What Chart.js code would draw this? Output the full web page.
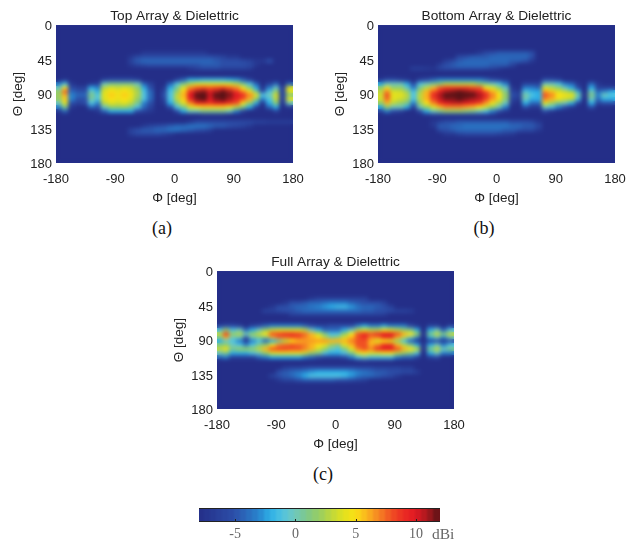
<!DOCTYPE html>
<html><head><meta charset="utf-8">
<style>
html,body{margin:0;padding:0;background:#fff;width:641px;height:544px;overflow:hidden}
canvas{position:absolute}
.cap{position:absolute;font:18px "Liberation Serif",serif;color:#111;transform:translate(-50%,-50%)}
.unit{position:absolute;font:15.5px "Liberation Serif",serif;color:#666;line-height:16px}
</style>
<script src="https://cdn.jsdelivr.net/npm/chart.js@4"></script>
</head><body>
<canvas id="a" width="320" height="210" style="left:0;top:0;width:320px;height:210px"></canvas>
<canvas id="b" width="319" height="210" style="left:322px;top:0;width:319px;height:210px"></canvas>
<canvas id="c" width="320" height="210" style="left:161px;top:246px;width:320px;height:210px"></canvas>
<canvas id="bar" width="340" height="44" style="left:149px;top:500px;width:340px;height:44px"></canvas>
<div class="cap" style="left:162px;top:228px">(a)</div>
<div class="cap" style="left:484px;top:228px">(b)</div>
<div class="cap" style="left:323px;top:474px">(c)</div>
<div class="unit" style="left:432px;top:526px">dBi</div>
<script>
const phiCenters=[-175,-165,-155,-145,-135,-125,-115,-105,-95,-85,-75,-65,-55,-45,-35,-25,-15,-5,5,15,25,35,45,55,65,75,85,95,105,115,125,135,145,155,165,175];
const thetaCenters=[32.5,37.5,42.5,47.5,52.5,57.5,62.5,67.5,72.5,77.5,82.5,87.5,92.5,97.5,102.5,107.5,112.5,117.5,122.5,127.5,132.5,137.5,142.5,147.5];
const phiTicks=[-180,-90,0,90,180];
const thetaTicks=[0,45,90,135,180];
const colorbarTicks=[-5,0,5,10];
const colorbarLevels=[-7.75,-7.25,-6.75,-6.25,-5.75,-5.25,-4.75,-4.25,-3.75,-3.25,-2.75,-2.25,-1.75,-1.25,-0.75,-0.25,0.25,0.75,1.25,1.75,2.25,2.75,3.25,3.75,4.25,4.75,5.25,5.75,6.25,6.75,7.25,7.75,8.25,8.75,9.25,9.75,10.25,10.75,11.25,11.75];
const colormapDb=[-8,-5,-3,-2,-1,0,1,2,3,4,5,6,7,8,9,10,11,12];
const colormapRgb=[[36,46,136],[44,78,168],[40,130,205],[45,175,230],[80,195,225],[110,200,190],[125,200,140],[150,205,100],[190,215,60],[225,225,30],[250,225,20],[250,180,30],[245,130,35],[240,80,35],[235,45,35],[225,25,35],[170,25,30],[90,18,22]];

const topArray=[
[-8,-8,-8,-8,-8,-8, -8,-8,-8,-8,-8,-8, -8,-8,-8,-8,-8,-8, -8,-8,-8,-8,-8,-8, -8,-8,-8,-8,-8,-8, -8,-8,-8,-8,-8,-8],
[-8,-8,-8,-8,-8,-8, -8,-8,-8,-8,-8,-8, -8,-7,-7,-7,-7,-7, -7,-7,-7,-7,-7,-8, -8,-8,-8,-8,-8,-8, -8,-8,-8,-8,-8,-8],
[-8,-8,-8,-8,-8,-8, -8,-8,-8,-8,-8,-7, -5.5,-5,-5,-5,-5,-5, -5,-5,-5,-5,-5,-5, -5.5,-6,-7,-7,-8,-8, -8,-8,-8,-8,-8,-8],
[-8,-8,-8,-8,-8,-8, -8,-8,-8,-8,-8,-6, -4.5,-4,-4,-4,-4,-4, -4,-4,-4,-4,-4,-4, -4.5,-5,-5,-5,-5.5,-6, -7,-7,-5,-8,-8,-8],
[-8,-8,-8,-8,-8,-8, -8,-8,-8,-8,-8,-7, -6,-5.5,-5,-5,-5,-5, -5,-5,-5,-5,-4.5,-4.5, -4.5,-5,-5,-5,-5,-5.5, -7,-8,-8,-8,-8,-8],
[-8,-8,-8,-8,-8,-8, -8,-8,-8,-8,-8,-8, -8,-8,-8,-8,-8,-8, -8,-8,-7,-6,-5.5,-5.5, -5.5,-6,-6,-6,-6,-6.5, -8,-8,-8,-8,-8,-8],
[-8,-8,-8,-8,-8,-8, -8,-8,-8,-8,-8,-8, -8,-8,-8,-8,-8,-8, -8,-8,-8,-8,-8,-8, -8,-8,-8,-8,-8,-8, -8,-8,-8,-8,-8,-8],
[-8,-8,-8,-8,-8,-8, -8,-8,-8,-8,-8,-8, -8,-8,-8,-8,-8,-8, -8,-8,-8,-8,-8,-8, -8,-8,-8,-8,-8,-8, -8,-8,-8,-8,-8,-8],
[-8,-7,-8,-8,-8,-8, -8,-6,-5,-5,-5,-5, -6,-8,-8,-8,-8,-8, -6,-4,-2,-2,-1.5,-1.5, -1.5,-1.5,-2,-2.5,-4,-6, -8,-8,-8,-8,-8,-8],
[-3,-1,-7,-8,-8,-7, -6,0,1,1,1,1, 0,-4,-6,-8,-8,-4, -1,1,3,4,4,4, 4,4,4,3,1,-1, -4,-8,-6,-4,-8,-4],
[0,5,-5,-6,-6,-2, -3,3,4,3.5,4,3.5, 2,-2,-5,-8,-7,-2, 1,4,7,8,8.5,8, 8.5,9,8,7,5,2, -2,-7,-3,0,-6,4],
[2,8,-4,-5,-5,0, -2,4,5,4.5,5,4, 2.5,-1,-4,-8,-6,-1, 2,5.5,9,11,11.5,10, 11,12,11,9,7,5, 1,-5,-1,2,-6,4],
[2,6,-3,-4,-4,1, -1,4,5.5,4.5,5.5,4.5, 2.5,-1,-4,-8,-5,-1, 3,6,10,12,12,10.5, 12,12,11.5,10,9,7, 4,-1,0,3.5,-6,1.5],
[2,5.5,-3,-5,-5,0.5, -1,4,5,4.5,5,4, 2,-1,-4,-8,-6,-1, 3,5.5,9.5,11.5,12,10, 11.5,12,11,9.5,8,6, 2,-3,-1,3,-6,4],
[0,4,-5,-6,-5,-1, -3,3,4,3.5,4,3, 1,-3,-5,-8,-7,-2, 1.5,4,7,9.5,9.5,9, 10,10,9,8,5,2, -2,-7,-2,1.5,-7,0],
[-3,1,-7,-8,-8,-4, -5,0,2,2,2,1, -1,-4,-6,-8,-8,-5, -1,1,4,5,5.5,5.5, 5.5,5.5,4.5,3,1,-2, -6,-8,-4,-2,-8,-7],
[-7,-4,-8,-8,-8,-8, -7,-4,-2,-2,-2,-2, -5,-6,-7,-8,-8,-8, -5,-2,0,0,1,1, 1,1,0,-3,-6,-8, -8,-8,-8,-6,-8,-8],
[-8,-8,-8,-8,-8,-8, -8,-8,-8,-8,-8,-8, -8,-8,-8,-8,-8,-8, -8,-8,-8,-8,-7,-7, -7,-7,-8,-8,-8,-8, -8,-8,-8,-8,-8,-8],
[-8,-8,-8,-8,-8,-8, -8,-8,-8,-8,-8,-8, -8,-8,-8,-8,-8,-8, -8,-8,-8,-8,-8,-8, -8,-8,-8,-8,-8,-8, -8,-8,-8,-8,-8,-8],
[-8,-8,-8,-8,-8,-8, -8,-8,-8,-8,-8,-8, -8,-8,-8,-8,-8,-8, -8,-8,-7,-5.5,-5.5,-5.5, -5.5,-5.5,-5.5,-5.5,-5.5,-5.5, -6,-6,-6.5,-6.5,-6.5,-6.5],
[-8,-8,-8,-8,-8,-8, -8,-8,-8,-8,-8,-8, -8,-7,-6,-5.5,-5,-4.5, -4,-4,-3.5,-3.5,-3.5,-4, -4.5,-4.5,-5,-5.5,-6,-7, -8,-8,-8,-8,-8,-8],
[-8,-8,-8,-8,-8,-8, -8,-8,-8,-8,-8,-6, -5,-4.5,-4.5,-4,-4,-3.5, -3.5,-4,-4.5,-5,-5.5,-6.5, -8,-8,-8,-8,-8,-8, -8,-8,-8,-8,-8,-8],
[-8,-8,-8,-8,-8,-8, -8,-8,-8,-8,-8,-6.5, -5.5,-5.5,-5.5,-5.5,-6,-7, -8,-8,-8,-8,-8,-8, -8,-8,-8,-8,-8,-8, -8,-8,-8,-8,-8,-8],
[-8,-8,-8,-8,-8,-8, -8,-8,-8,-8,-8,-8, -8,-8,-8,-8,-8,-8, -8,-8,-8,-8,-8,-8, -8,-8,-8,-8,-8,-8, -8,-8,-8,-8,-8,-8]
];

const bottomArray=[
[-8,-8,-8,-8,-8,-8, -8,-8,-8,-8,-8,-8, -8,-8,-8,-8,-8,-8, -8,-8,-8,-8,-8,-8, -8,-8,-8,-8,-8,-8, -8,-8,-8,-8,-8,-8],
[-8,-8,-8,-8,-8,-8, -8,-8,-8,-8,-8,-8, -8,-8,-8,-7,-5.5,-5, -4.5,-4.5,-4.5,-4.5,-4.5,-5, -8,-8,-8,-8,-8,-8, -8,-8,-8,-8,-8,-8],
[-8,-8,-8,-8,-8,-8, -8,-8,-8,-8,-8,-8, -5.5,-5,-4.5,-4.5,-4.5,-4, -4,-4,-4,-4,-4,-5, -8,-8,-8,-8,-8,-8, -8,-8,-8,-8,-8,-8],
[-8,-8,-8,-8,-8,-8, -8,-8,-8,-8,-6.5,-5.5, -4.5,-4,-4,-4,-4,-4, -4,-4,-4.5,-4.5,-5,-7, -8,-8,-8,-8,-8,-8, -8,-8,-8,-8,-8,-8],
[-8,-8,-8,-8,-8,-8, -8,-8,-8,-6.5,-5,-4.5, -4,-4,-4,-4,-4,-4.5, -4.5,-4.5,-6,-8,-8,-8, -8,-8,-8,-8,-8,-8, -8,-8,-8,-8,-8,-8],
[-8,-8,-8,-8,-8,-6, -6,-6.5,-7,-5.5,-5,-5, -5,-5,-5,-5,-5.5,-6, -7,-8,-8,-8,-8,-8, -8,-8,-8,-8,-8,-8, -8,-8,-8,-8,-8,-8],
[-8,-8,-8,-8,-8,-8, -8,-8,-8,-8,-8,-8, -8,-8,-8,-8,-8,-8, -8,-8,-8,-8,-8,-8, -8,-8,-8,-8,-8,-8, -8,-8,-8,-8,-8,-8],
[-8,-8,-8,-8,-8,-8, -8,-8,-8,-8,-8,-8, -8,-8,-8,-8,-8,-8, -8,-8,-8,-8,-8,-8, -8,-8,-8,-8,-8,-8, -8,-8,-8,-8,-8,-8],
[-7,-5,-5,-6,-7,-8, -6,-5,-4,-3,-3,-3, -3,-3,-3,-3,-4,-5, -6,-7,-8,-8,-8,-8, -8,-5,-5,-6,-8,-8, -8,-8,-8,-8,-8,-8],
[-2,0,0,0,-2,-5, -1,0,1,2,3,3, 3,3,3,2,1,0, -1,-3,-8,-8,-6,-6, -6,0,0,-1,-3,-4, -7,-8,-4,-7,-8,-8],
[2,5,2,2,0,-3, 1,3,6,8,9,9, 9,9,8.5,8,5,4, 2,0,-7,-8,-3,-3, -4,4,3,2,0,-2, -5,-8,-2,-6,-6,-6],
[3,7,4,3.5,2,-1, 2.5,6,8,10,11,11.5, 12,11.5,11,10,8,6, 4,1,-6,-7,-1,-2, -2,6.5,5.5,4,3,2, -2,-8,0,-4,-3,-2],
[3.5,8,4,4,3,-1, 3,6,9,11,12,12, 12,12,12,11,9,7, 5,2,-5,-6,0.5,-1, -2,8,7,5,4.5,4, 0.5,-7,1,-3,0,-1],
[3.5,7.5,4,3.5,2.5,-1, 3,6,8.5,10.5,11.5,11.5, 12,11.5,11,10.5,8.5,6.5, 4.5,1.5,-6,-7,0,-2, -2,7,6,4.5,3.5,3, -1.5,-8,0,-4,-2,-2],
[2,6,3,2,1,-3, 2,5,7,9,10,10.5, 10.5,10,9.5,8.5,6.5,4.5, 2.5,0,-7,-8,-2,-4, -4,4,2.5,1,0,-2, -6,-8,-2,-6,-5,-5],
[-2,2,0,0,-2,-6, 0,2,4,6,7,7, 7,6.5,6,5,3.5,2, 0,-3,-8,-8,-5,-7, -7,0,-1,-3,-5,-7, -8,-8,-5,-8,-8,-8],
[-6,-3,-5,-6,-8,-8, -5,-2,0,1,2,2, 2,1.5,1,0,-1,-3, -5,-7,-8,-8,-8,-8, -8,-5,-7,-8,-8,-8, -8,-8,-8,-8,-8,-8],
[-8,-8,-8,-8,-8,-8, -8,-7,-6,-6,-6,-6, -6,-6,-6,-6,-6,-7, -8,-8,-8,-8,-8,-8, -8,-8,-8,-8,-8,-8, -8,-8,-8,-8,-8,-8],
[-8,-8,-8,-8,-8,-8, -8,-8,-8,-8,-8,-8, -8,-8,-8,-8,-8,-8, -8,-8,-8,-8,-8,-8, -8,-8,-8,-8,-8,-8, -8,-8,-8,-8,-8,-8],
[-8,-8,-8,-8,-8,-8, -8,-8,-7,-6,-5,-5, -4.5,-4.5,-4.5,-4.5,-4.5,-4.5, -4.5,-4.5,-5,-5,-5,-5.5, -7,-8,-8,-8,-8,-8, -8,-8,-8,-8,-8,-8],
[-8,-8,-8,-8,-8,-8, -8,-8,-7,-4.5,-4.5,-4, -4,-3.5,-3.5,-3.5,-3.5,-3.5, -3.5,-3.5,-4,-4,-4.5,-4.5, -5.5,-8,-8,-8,-8,-8, -8,-8,-8,-8,-8,-8],
[-8,-8,-8,-8,-8,-8, -8,-8,-8,-5.5,-5,-4.5, -4,-4,-4,-4,-4,-4, -4,-4.5,-4.5,-5,-5.5,-5.5, -7,-8,-8,-8,-8,-8, -8,-8,-8,-8,-8,-8],
[-8,-8,-8,-8,-8,-8, -8,-8,-8,-8,-7,-7, -6,-5.5,-5.5,-5.5,-5.5,-5.5, -6,-6.5,-7,-8,-8,-8, -8,-8,-8,-8,-8,-8, -8,-8,-8,-8,-8,-8],
[-8,-8,-8,-8,-8,-8, -8,-8,-8,-8,-8,-8, -8,-8,-8,-8,-8,-8, -8,-8,-8,-8,-8,-8, -8,-8,-8,-8,-8,-8, -8,-8,-8,-8,-8,-8]
];

const fullArray=[
[-8,-8,-8,-8,-8,-8, -8,-8,-8,-8,-8,-8, -8,-8,-8,-8,-8,-8, -8,-8,-8,-8,-8,-8, -8,-8,-8,-8,-8,-8, -8,-8,-8,-8,-8,-8],
[-8,-8,-8,-8,-8,-8, -8,-8,-8,-8,-8,-8, -8,-8,-7,-6,-6,-6, -6,-6,-6,-6,-6,-8, -8,-8,-8,-8,-8,-8, -8,-8,-8,-8,-8,-8],
[-8,-8,-8,-8,-8,-8, -8,-8,-8,-8,-7,-5, -5,-4.5,-4,-4,-3.5,-3, -3,-3,-4,-4.5,-5,-5, -5,-6,-8,-8,-8,-8, -8,-8,-8,-8,-8,-8],
[-8,-8,-8,-8,-8,-8, -8,-8,-7,-5,-5,-4.5, -4,-4,-3.5,-3,-2.5,-2, -1.5,-1.5,-2.5,-3.5,-4,-4, -4.5,-5,-6,-8,-8,-8, -8,-8,-8,-8,-8,-8],
[-8,-8,-8,-8,-8,-8, -8,-6,-6,-5.5,-5,-5, -4.5,-4,-4,-4,-4,-4, -4,-4,-4,-4,-4.5,-4.5, -5,-5,-5.5,-6,-6,-6.5, -8,-8,-8,-8,-8,-8],
[-8,-8,-8,-8,-8,-8, -8,-8,-8,-8,-8,-6, -6,-6,-6,-6,-6,-6, -6,-6,-6,-6,-6,-6, -6,-6.5,-8,-8,-8,-8, -8,-8,-8,-8,-8,-8],
[-8,-8,-8,-8,-8,-8, -8,-8,-8,-8,-8,-8, -8,-8,-8,-8,-8,-8, -8,-8,-8,-8,-8,-8, -8,-8,-8,-8,-8,-8, -8,-8,-8,-8,-8,-8],
[-8,-8,-8,-8,-8,-8, -8,-8,-8,-8,-8,-8, -8,-8,-8,-8,-8,-8, -8,-8,-8,-8,-8,-8, -8,-8,-8,-8,-8,-8, -8,-8,-8,-8,-8,-8],
[-6,-5,-5,-6,-8,-6, -5,-4,-3,-3,-3,-3, -3,-4,-5,-6,-6,-5, -5,-5,-5,-3,-2,-3, -3,-2,-3,-3,-3,-5, -7,-8,-6,-6,-8,-6],
[-1,2,-1,0,-4,-2, 0,2,3.5,4,4,4, 4,3,0,-2,-4,-4, -4,-2,0,3,4,3, 3,5,4,3,2,1, -2,-8,-2,0,-4,-1],
[3,8.5,2,2.5,0,2, 3,5,8,8.5,9,9, 8.5,7.5,6,3.5,1,-1, -1,2,5,8,9,8, 9,10,10,8,6,5, 2,-7,1,3,1,3],
[1,6,0,0,-5,0, 1,1,6,7.5,7.5,8, 8,7,6,5,3,1, 2,4,6,8,9,7, 7,9,9,6,3,0, -3,-8,-2,0,-3,0],
[-2,0,-1,-3,-7,-3, -1,-4,-2,1,3,5, 6,6.5,6.5,6.5,6.5,6, 6,6,7,8,8,6, 4,5,4,2,-1,-4, -7,-8,-6,-5,-7,-5],
[1.5,2,0,-1,-3,-1, 1,2,5,7,7.5,8, 7.5,7,6,5,4,2, 1,4,6,8,8,6, 7,9,9,6,3,1, -2,-7,-2,0,-3,-1],
[3,4.5,1,2,2,2, 3,6,8,8.5,8.5,8, 8,7,6,3.5,2,0, -1,1,4,7,8,7, 9,10,10,8,6,5, 3,-7,1,3,0,1],
[0,1,-2,-2,-2,-1, 0,2,4,4.5,4.5,4.5, 4.5,3.5,2,1,-1,-2, -2,-1,1,4,5,4, 4,5,5,3,2,1, -1,-8,-2,0,-3,-3],
[-4,-3,-6,-6,-6,-6, -4,-3,-2,-2,-2,-2, -2,-3,-4,-5,-6,-6, -6,-5,-3,-1,0,-1, -1,-1,-1,-3,-4,-4, -6,-8,-6,-5,-8,-8],
[-8,-8,-8,-8,-8,-8, -8,-8,-8,-8,-8,-8, -8,-8,-8,-8,-8,-8, -8,-8,-8,-7,-6,-7, -7,-7,-7,-8,-8,-8, -8,-8,-8,-8,-8,-8],
[-8,-8,-8,-8,-8,-8, -8,-8,-8,-8,-8,-8, -8,-8,-8,-8,-8,-8, -8,-8,-8,-8,-8,-8, -8,-8,-8,-8,-8,-8, -8,-8,-8,-8,-8,-8],
[-8,-8,-8,-8,-8,-8, -8,-8,-8,-8,-6.5,-6, -6,-5.5,-5,-5,-5,-5, -5,-5,-5,-5.5,-5.5,-5.5, -6,-6,-6,-6,-6.5,-6.5, -8,-8,-8,-8,-8,-8],
[-8,-8,-8,-8,-8,-8, -8,-8,-8,-5,-4.5,-4, -3.5,-3,-2.5,-2,-2,-2, -2,-2,-2.5,-3,-3.5,-4, -4.5,-4.5,-5,-5,-5.5,-5.5, -6.5,-8,-8,-8,-8,-8],
[-8,-8,-8,-8,-8,-8, -8,-8,-6,-5,-4.5,-4, -3,-2,-1,-1,-1,-1, -1,-1.5,-2.5,-3.5,-4,-4, -4.5,-5,-5.5,-7,-8,-8, -8,-8,-8,-8,-8,-8],
[-8,-8,-8,-8,-8,-8, -8,-8,-8,-7,-6,-6, -5,-4.5,-4.5,-4.5,-4.5,-4.5, -5,-5,-5.5,-6,-6.5,-8, -8,-8,-8,-8,-8,-8, -8,-8,-8,-8,-8,-8],
[-8,-8,-8,-8,-8,-8, -8,-8,-8,-8,-8,-8, -8,-8,-8,-8,-8,-8, -8,-8,-8,-8,-8,-8, -8,-8,-8,-8,-8,-8, -8,-8,-8,-8,-8,-8]
];

function colorOf(v){
  const n=colormapDb.length;
  if(v<=colormapDb[0])return colormapRgb[0];
  for(let i=1;i<n;i++){
    if(v<=colormapDb[i]){
      const t=(v-colormapDb[i-1])/(colormapDb[i]-colormapDb[i-1]);
      return colormapRgb[i].map((c,k)=>Math.round(colormapRgb[i-1][k]+(c-colormapRgb[i-1][k])*t));
    }
  }
  return colormapRgb[n-1];
}
const cssOf=v=>{const c=colorOf(v);return `rgb(${c[0]},${c[1]},${c[2]})`;};
const tiles={};
function tile(v,w,h){
  const key=v+'|'+w+'|'+h;
  if(!tiles[key]){
    const t=document.createElement('canvas');t.width=w;t.height=h;
    const g=t.getContext('2d');g.fillStyle=cssOf(v);g.fillRect(0,0,w,h);
    tiles[key]=t;
  }
  return tiles[key];
}
const heatLayer=blur=>({
  id:'heatLayer',
  beforeDatasetsDraw(chart){
    const a=chart.chartArea,g=chart.ctx;
    g.save();g.fillStyle=cssOf(-8);g.fillRect(a.left,a.top,a.width,a.height);g.restore();
  },
  afterDatasetsDraw(chart){
    const a=chart.chartArea,g=chart.ctx;
    g.save();g.beginPath();g.rect(a.left,a.top,a.width,a.height);g.clip();
    g.filter=`blur(${blur}px)`;
    g.drawImage(chart.canvas,a.left,a.top,a.width,a.height,a.left,a.top,a.width,a.height);
    g.restore();
  }
});
const FONT='"Liberation Sans",Arial,sans-serif';
const INK='#222';
function heatChart(id,title,rows){
  const pts=[];
  rows.forEach((row,j)=>row.forEach((v,i)=>pts.push({x:phiCenters[i],y:thetaCenters[j],v})));
  const tileStyle=c=>{
    const ch=c.chart,a=ch.chartArea;
    const w=a?Math.ceil(a.width/phiCenters.length)+1:8;
    const h=a?Math.ceil(a.height*5/180)+1:5;
    return tile(c.raw?c.raw.v:-8,w,h);
  };
  return new Chart(document.getElementById(id),{
    type:'scatter',
    data:{datasets:[{data:pts,pointStyle:tileStyle,pointRadius:1,pointHoverRadius:1,borderWidth:0}]},
    plugins:[heatLayer(2.3)],
    options:{
      responsive:false,animation:false,devicePixelRatio:1,
      layout:{padding:{right:id==='b'?26:27}},
      plugins:{legend:{display:false},tooltip:{enabled:false},
        title:{display:true,text:title,fullSize:false,color:INK,font:{family:FONT,size:13.7,weight:'normal'},padding:{top:8.5,bottom:0.1}}},
      scales:{
        x:{type:'linear',min:-180,max:180,grid:{display:false,drawTicks:false},border:{display:false},
          afterBuildTicks:s=>{s.ticks=phiTicks.map(value=>({value}));},
          afterFit:s=>{s.height=47;},
          ticks:{color:INK,font:{family:FONT,size:13},maxRotation:0,autoSkip:false,padding:9},
          title:{display:true,text:'Φ [deg]',color:INK,font:{family:FONT,size:13.5},padding:{top:0,bottom:4}}},
        y:{type:'linear',min:0,max:180,reverse:true,grid:{display:false,drawTicks:false},border:{display:false},
          afterBuildTicks:s=>{s.ticks=thetaTicks.map(value=>({value}));},
          afterFit:s=>{s.width=56;},
          ticks:{color:INK,font:{family:FONT,size:13},autoSkip:false,padding:4,labelOffset:1.5},
          title:{display:true,text:'Θ [deg]',color:INK,font:{family:FONT,size:13.5},padding:{top:10,bottom:0}}}
      }
    }
  });
}
heatChart('a','Top Array & Dielettric',topArray);
heatChart('b','Bottom Array & Dielettric',bottomArray);
heatChart('c','Full Array & Dielettric',fullArray);

const barFrame={
  id:'barFrame',
  afterDraw(chart){
    const a=chart.chartArea,g=chart.ctx,s=chart.scales.x;
    g.save();g.strokeStyle='#222';g.lineWidth=1;
    g.beginPath();g.moveTo(a.left,a.top+.5);g.lineTo(a.right,a.top+.5);
    g.moveTo(a.left,a.bottom-.5);g.lineTo(a.right,a.bottom-.5);
    colorbarTicks.forEach(v=>{const x=Math.round(s.getPixelForValue(v))+.5;g.moveTo(x,a.bottom);g.lineTo(x,a.bottom-3);});
    g.stroke();g.restore();
  }
};
new Chart(document.getElementById('bar'),{
  type:'scatter',
  data:{datasets:[{data:colorbarLevels.map(v=>({x:v,y:0,v})),
    pointStyle:c=>tile(c.raw?c.raw.v:-8,8,16),pointRadius:1,pointHoverRadius:1,borderWidth:0}]},
  plugins:[heatLayer(1.2),barFrame],
  options:{
    responsive:false,animation:false,devicePixelRatio:1,
    layout:{padding:{left:0,right:49,top:8,bottom:0}},
    plugins:{legend:{display:false},tooltip:{enabled:false}},
    scales:{
      x:{type:'linear',min:-8,max:12,grid:{display:false,drawTicks:false},border:{display:false},
        afterBuildTicks:s=>{s.ticks=colorbarTicks.map(value=>({value}));},
        afterFit:s=>{s.height=22;},
        ticks:{color:'#666',font:{family:'"Liberation Serif",serif',size:14},maxRotation:0,autoSkip:false,padding:4}},
      y:{type:'linear',min:-1,max:1,display:true,grid:{display:false,drawTicks:false},border:{display:false},
        ticks:{display:false},afterFit:s=>{s.width=50;}}
    }
  }
});
</script>
</body></html>
